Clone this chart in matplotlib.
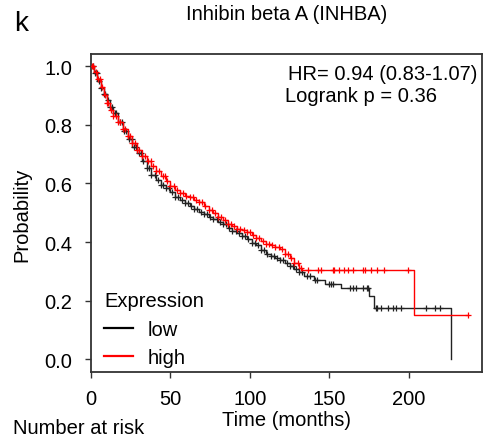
import numpy as np
import matplotlib
matplotlib.use("Agg")
import matplotlib.pyplot as plt
from matplotlib.lines import Line2D

plt.rcParams['font.family'] = ['Liberation Sans', 'DejaVu Sans']

# ---- data ----
low_times = [0, 2, 4, 6, 8, 10, 12, 14, 17, 20, 23, 26, 29, 32, 35, 38, 41, 44, 47, 50,
             53, 56, 59, 62, 65, 68, 71, 74, 77, 80, 83, 86, 89, 92, 95, 98, 101, 104,
             107, 110, 113, 116, 119, 122, 125, 128, 131, 134, 140, 147, 157, 175, 178, 226.4]
low_surv = [1.0, 0.975, 0.95, 0.925, 0.905, 0.885, 0.86, 0.84, 0.81, 0.78, 0.75, 0.725,
            0.705, 0.675, 0.653, 0.628, 0.61, 0.595, 0.583, 0.57, 0.555, 0.543, 0.532,
            0.522, 0.513, 0.503, 0.495, 0.487, 0.478, 0.47, 0.46, 0.447, 0.438, 0.43,
            0.42, 0.41, 0.398, 0.39, 0.373, 0.36, 0.352, 0.345, 0.338, 0.33, 0.318,
            0.307, 0.298, 0.285, 0.270, 0.257, 0.245, 0.218, 0.175, 0.0]
low_censor = [1, 2.5, 3.5, 5, 6.5, 8, 9, 10.5, 12, 13.5, 15, 16, 18, 19.5, 21, 22, 24,
              25.5, 27, 28, 30, 31.5, 33, 35, 36.5, 38, 40, 42, 44, 45.5, 47, 49, 51, 53,
              55, 57, 59, 61, 63, 65, 67, 69, 71, 73, 75, 77, 79, 81, 83, 85, 87, 89, 91,
              93, 95, 97, 99, 101, 103, 105, 107, 109, 111, 113, 115, 117, 119, 121, 123,
              125, 127, 129, 131, 133, 136, 138, 141, 142, 150, 151, 152.5, 163, 165, 167,
              171, 173.5, 174.4, 179.2, 180, 182.2, 187, 189.7, 192.2, 195.3, 210.7,
              216.5, 219.5]

high_times = [0, 2, 4, 6, 8, 10, 12, 14, 17, 20, 23, 26, 29, 32, 35, 38, 41, 44, 47, 50,
              53, 56, 59, 62, 65, 68, 71, 74, 77, 80, 83, 86, 89, 92, 95, 98, 101, 104,
              107, 110, 113, 116, 119, 122, 125, 128, 131, 133, 203.3, 237]
high_surv = [1.0, 0.98, 0.955, 0.93, 0.90, 0.875, 0.85, 0.83, 0.81, 0.785, 0.76, 0.737,
             0.715, 0.695, 0.677, 0.66, 0.642, 0.625, 0.607, 0.59, 0.578, 0.568, 0.558,
             0.552, 0.545, 0.535, 0.522, 0.51, 0.498, 0.487, 0.475, 0.463, 0.455, 0.446,
             0.44, 0.433, 0.425, 0.415, 0.403, 0.395, 0.39, 0.383, 0.375, 0.36, 0.345,
             0.328, 0.312, 0.305, 0.15, 0.15]
high_censor = [0.5, 1.5, 3, 4.5, 5.5, 7, 8.5, 10, 11, 12.5, 14, 15.5, 17, 18.5, 20, 21.5,
               23, 24.5, 26, 27.5, 29, 30.5, 32, 34, 36, 37.5, 39, 41, 43, 45, 46.5, 48,
               50, 52, 54, 56, 58, 60, 62, 64, 66, 68, 70, 72, 74, 76, 78, 80, 82, 84, 86,
               88, 90, 92, 94, 96, 98, 100, 102, 104, 106, 108, 110, 112, 114, 116, 118,
               120, 122, 124, 126, 128, 130, 132, 136.7, 143, 144.8, 152, 152.8, 156.2,
               159.3, 161.5, 165, 171, 172.5, 176, 180, 184.6, 199.6, 237]

title = "Inhibin beta A (INHBA)"
hr_text = "HR= 0.94 (0.83-1.07)"
p_text = "Logrank p = 0.36"
x_ticks = [0, 50, 100, 150, 200]
y_ticks = [0.0, 0.2, 0.4, 0.6, 0.8, 1.0]


def step_value(times, surv, t):
    idx = np.searchsorted(np.asarray(times), t, side='right') - 1
    return np.asarray(surv)[idx]


W, H = 485, 439
fig = plt.figure(figsize=(W / 100, H / 100), dpi=100)
ax = fig.add_axes([91 / W, 1 - 373 / H, (482 - 91) / W, (373 - 55) / H])

FS = 14.5
ax.step(low_times, low_surv, where='post', color='#222222', lw=1.0, zorder=2)
ax.plot(low_censor, step_value(low_times, low_surv, low_censor), ls='none',
        marker='+', ms=5, mew=0.9, color='#222222', zorder=2)
ax.step(high_times, high_surv, where='post', color='red', lw=1.0, zorder=3)
ax.plot(high_censor, step_value(high_times, high_surv, high_censor), ls='none',
        marker='+', ms=5, mew=0.9, color='red', zorder=3)

ax.set_xlim(0, 246)
ax.set_ylim(-0.0427, 1.041)
ax.set_xticks(x_ticks)
ax.set_yticks(y_ticks)
ax.set_yticklabels([f"{v:.1f}" for v in y_ticks])
ax.tick_params(axis='both', labelsize=FS, length=4.5, width=1.0, color='#333333')
ax.tick_params(axis='y', pad=9)
ax.tick_params(axis='x', pad=8)
for s in ax.spines.values():
    s.set_linewidth(1.3)
    s.set_color('#333333')

fig.text(477 / W, 1 - 75 / H, hr_text, ha='right', va='center', fontsize=FS)
fig.text(285 / W, 1 - 96 / H, p_text, ha='left', va='center', fontsize=FS)

handles = [Line2D([], [], color='black', lw=1.6), Line2D([], [], color='red', lw=1.6)]
leg = ax.legend(handles, ['low', 'high'], title='Expression', loc='upper left',
                bbox_to_anchor=((104 - 91) / (482 - 91), (373 - 292) / (373 - 55)),
                frameon=False, fontsize=FS, title_fontsize=FS, handlelength=1.45,
                handletextpad=0.7, labelspacing=0.48, borderaxespad=0, borderpad=0)
leg._legend_box.align = 'left'

fig.text(14 / W, 1 - 24 / H, 'k', ha='left', va='center', fontsize=20)
fig.text(287 / W, 1 - 15 / H, title, ha='center', va='center', fontsize=FS)
fig.text(287 / W, 1 - 421 / H, 'Time (months)', ha='center', va='center', fontsize=FS)
fig.text(13 / W, 1 - 429 / H, 'Number at risk', ha='left', va='center', fontsize=FS)
fig.text(22 / W, 1 - 215 / H, 'Probability', ha='center', va='center', rotation=90, fontsize=FS)

fig.savefig('out.png', dpi=100)
